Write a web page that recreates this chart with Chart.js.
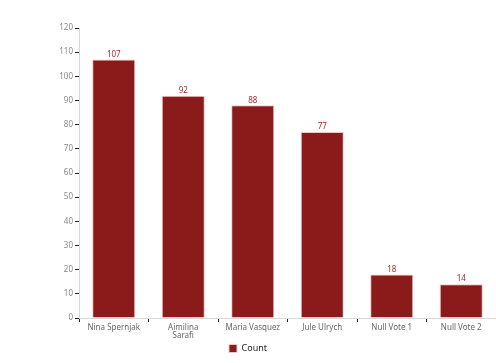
<!DOCTYPE html>
<html><head><meta charset="utf-8">
<script src="https://cdn.jsdelivr.net/npm/chart.js@4"></script>
<style>html,body{margin:0;padding:0;background:#fff}#wrap{width:496px;height:363px}</style>
</head><body><div id="wrap"><canvas id="c" width="496" height="363"></canvas></div>
<script>
const categories = ['Nina Spernjak', ['Aimilina','Sarafi'], 'Maria Vasquez', 'Jule Ulrych', 'Null Vote 1', 'Null Vote 2'];
const counts = [107, 92, 88, 77, 18, 14];
const yTicks = [0,10,20,30,40,50,60,70,80,90,100,110,120];

const labelPlugin = {
  id: 'vals',
  afterDatasetsDraw(chart) {
    const ctx = chart.ctx;
    const meta = chart.getDatasetMeta(0);
    ctx.save();
    ctx.font = '8px "Noto Sans", sans-serif';
    ctx.fillStyle = '#a52a2a';
    ctx.textAlign = 'center';
    ctx.textBaseline = 'bottom';
    meta.data.forEach((bar, i) => {
      ctx.fillText(String(counts[i]), bar.x, bar.y - 1);
    });
    ctx.restore();
  }
};

new Chart(document.getElementById('c'), {
  type: 'bar',
  data: {
    labels: categories,
    datasets: [{
      label: 'Count',
      data: counts,
      backgroundColor: '#8b1a1a',
      borderColor: '#f0c8c8',
      borderWidth: 1,
      categoryPercentage: 0.62,
      barPercentage: 1.0
    }]
  },
  options: {
    responsive: false,
    animation: false,
    layout: { padding: { top: 28, right: 0, left: 0, bottom: 0 } },
    plugins: {
      legend: {
        position: 'bottom',
        labels: { boxWidth: 8, boxHeight: 8, color: '#222', font: { size: 9, family: '"Noto Sans", sans-serif' }, padding: 3 }
      },
      tooltip: { enabled: false }
    },
    scales: {
      y: {
        min: 0, max: 120,
        afterBuildTicks(s) { s.ticks = yTicks.map(v => ({ value: v })); },
        afterFit(s) { s.width = 79; },
        border: { color: '#d8d8d8', width: 1 },
        grid: { drawOnChartArea: false, tickLength: 4, tickColor: '#222', tickWidth: 1 },
        ticks: { color: '#888', font: { size: 8, family: '"Noto Sans", sans-serif' }, padding: 2 }
      },
      x: {
        afterFit(s) { s.height = 23; },
        border: { color: '#d8d8d8', width: 1 },
        grid: { drawOnChartArea: false, offset: true, tickLength: 4, tickColor: '#222', tickWidth: 1 },
        ticks: { color: '#666', font: { size: 8, family: '"Noto Sans", sans-serif', lineHeight: 1.1 }, padding: 1, maxRotation: 0, autoSkip: false }
      }
    }
  },
  plugins: [labelPlugin]
});
</script></body></html>
